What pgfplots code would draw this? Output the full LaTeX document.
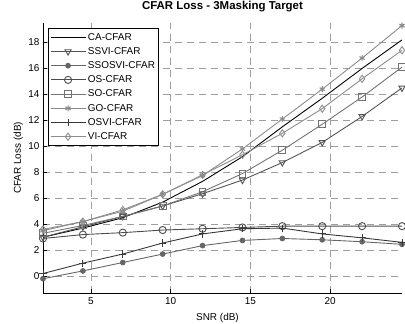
\documentclass[border=0pt]{standalone}
\usepackage{pgfplots}
\pgfplotsset{compat=1.18}
\usepackage{fontspec}
\setmainfont{Liberation Sans}
\definecolor{cSSVI}{gray}{0.33}
\definecolor{cSSOSVI}{gray}{0.40}
\definecolor{cOS}{gray}{0.30}
\definecolor{cSO}{gray}{0.45}
\definecolor{cGO}{gray}{0.55}
\definecolor{cOSVI}{gray}{0.22}
\definecolor{cVI}{gray}{0.55}
\begin{document}
\begin{tikzpicture}
\begin{axis}[
  scale only axis,
  width=359bp, height=270bp,
  xmin=2, xmax=24.5, ymin=-1.3, ymax=19.5,
  axis lines=left,
  axis line style={-, line width=0.6pt},
  tick align=inside,
  xtick={5,10,15,20}, ytick={0,2,...,18},
  grid=major,
  major grid style={gray!75, line width=0.5pt, dash pattern=on 7bp off 5bp},
  tick style={black, line width=0.5pt},
  major tick length=4bp,
  ticklabel style={font=\fontsize{10}{11}\selectfont},
  xticklabel style={yshift=-1bp},
  yticklabel style={xshift=0bp},
  /pgf/number format/assume math mode=true,
  xlabel={SNR (dB)}, ylabel={CFAR Loss (dB)},
  label style={font=\fontsize{10}{11}\selectfont},
  xlabel style={at={(axis description cs:0.486,-0.1)}, anchor=base},
  ylabel style={at={(axis description cs:-0.0613,0.5)}, anchor=base},
  title={\textbf{CFAR Loss - 3Masking Target}},
  title style={font=\fontsize{11.5}{12}\selectfont, at={(axis description cs:0.5,1.028)}, anchor=base},
  legend style={font=\fontsize{10}{12}\selectfont, draw=black, line width=0.6pt, at={(0.0148,0.98)}, anchor=north west, inner sep=1.5pt, row sep=0pt,
    nodes={inner ysep=2.35bp, text height=7.5bp, text depth=2bp}},
  legend cell align=left,
  legend image code/.code={\draw[mark repeat=2,mark phase=2] plot coordinates {(0bp,0bp) (17.5bp,0bp) (35bp,0bp)};},
  every axis plot/.append style={line width=0.9pt},
]
\addplot[black, no marks] coordinates {(2,3.0)(4.5,3.7)(7,4.5)(9.5,5.7)(12,7.3)(14.5,9.2)(17,11.5)(19.5,13.7)(22,16.0)(24.5,18.2)};
\addlegendentry{CA-CFAR}
\addplot[cSSVI, mark=triangle, mark size=3.6pt, mark options={rotate=180, solid}] coordinates {(2,3.0)(4.5,3.8)(7,4.6)(9.5,5.4)(12,6.35)(14.5,7.4)(17,8.75)(19.5,10.3)(22,12.3)(24.5,14.5)};
\addlegendentry{SSVI-CFAR}
\addplot[cSSOSVI, mark=*, mark size=2.4pt] coordinates {(2,-0.2)(4.5,0.4)(7,1.05)(9.5,1.7)(12,2.35)(14.5,2.75)(17,2.9)(19.5,2.8)(22,2.65)(24.5,2.45)};
\addlegendentry{SSOSVI-CFAR}
\addplot[cOS, mark=o, mark size=3.6pt] coordinates {(2,2.9)(4.5,3.2)(7,3.35)(9.5,3.55)(12,3.65)(14.5,3.75)(17,3.85)(19.5,3.85)(22,3.85)(24.5,3.85)};
\addlegendentry{OS-CFAR}
\addplot[cSO, mark=square, mark size=3.4pt] coordinates {(2,3.3)(4.5,3.9)(7,4.6)(9.5,5.4)(12,6.5)(14.5,7.9)(17,9.7)(19.5,11.7)(22,13.8)(24.5,16.1)};
\addlegendentry{SO-CFAR}
\addplot[cGO, mark=asterisk, mark size=3pt, mark options={line width=1.1pt}] coordinates {(2,3.5)(4.5,4.2)(7,5.0)(9.5,6.3)(12,7.75)(14.5,9.8)(17,12.1)(19.5,14.4)(22,16.8)(24.5,19.3)};
\addlegendentry{GO-CFAR}
\addplot[cOSVI, mark=+, mark size=3.6pt] coordinates {(2,0.2)(4.5,1.0)(7,1.7)(9.5,2.55)(12,3.25)(14.5,3.65)(17,3.7)(19.5,3.25)(22,2.95)(24.5,2.6)};
\addlegendentry{OSVI-CFAR}
\addplot[cVI, mark=diamond, mark size=3.6pt] coordinates {(2,3.6)(4.5,4.2)(7,5.1)(9.5,6.3)(12,7.8)(14.5,9.35)(17,11.0)(19.5,12.9)(22,15.2)(24.5,17.4)};
\addlegendentry{VI-CFAR}
\coordinate (ll) at (rel axis cs:0,0);
\coordinate (ur) at (rel axis cs:1,1);
\end{axis}
\pgfresetboundingbox
\path ([shift={(-43bp,-31bp)}]ll) rectangle ([shift={(3bp,23bp)}]ur);
\end{tikzpicture}
\end{document}
